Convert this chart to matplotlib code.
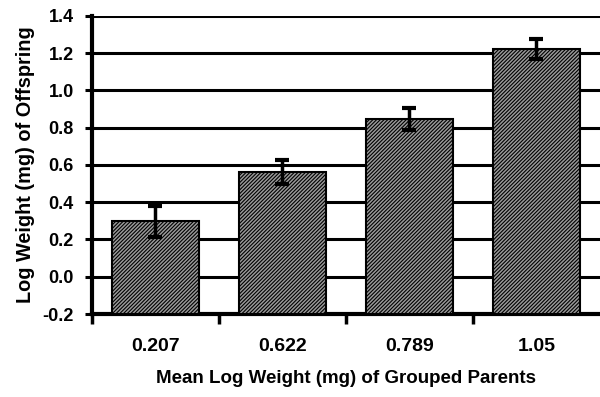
import matplotlib
matplotlib.use('Agg')
import matplotlib.pyplot as plt

plt.rcParams['font.family'] = ['Liberation Sans', 'DejaVu Sans']
plt.rcParams['font.weight'] = 'bold'
plt.rcParams['hatch.linewidth'] = 0.8
plt.rcParams['hatch.color'] = 'black'

# datos
categorias = ['0.207', '0.622', '0.789', '1.05']
medias = [0.297, 0.562, 0.846, 1.221]
errores = [0.083, 0.063, 0.058, 0.054]
yticks = [-0.2, 0.0, 0.2, 0.4, 0.6, 0.8, 1.0, 1.2, 1.4]
base = -0.2  # las barras salen del eje inferior

fig = plt.figure(figsize=(6.0, 3.97), dpi=100)
ax = fig.add_axes([0.153, 0.209, 0.847, 0.751])

pos = list(range(len(categorias)))
alturas = [m - base for m in medias]
ax.set_axisbelow(True)
ax.grid(axis='y', color='black', linewidth=2.2)
ax.bar(pos, alturas, width=0.68, bottom=base, color='#9a9a9a', edgecolor='black',
       linewidth=1.5, hatch='/' * 9, zorder=3)
ax.errorbar(pos, medias, yerr=errores, fmt='none', ecolor='black',
            elinewidth=2.5, capsize=5, capthick=3, zorder=4)

ax.set_xlim(-0.5, 3.5)
ax.set_ylim(-0.2, 1.4)
ax.set_yticks(yticks)
ax.set_yticklabels([f'{v:.1f}' for v in yticks], fontsize=13, fontweight='bold')
ax.set_xticks(pos)
ax.set_xticklabels(categorias, fontsize=14, fontweight='bold')
ax.tick_params(axis='x', which='major', length=0, pad=17)
ax.set_xticks([-0.5, 0.5, 1.5, 2.5], minor=True)
ax.tick_params(axis='x', which='minor', length=7, width=2.5, direction='out')
ax.tick_params(axis='y', length=5, width=2.2, direction='out', pad=8)

for s in ['top', 'right']:
    ax.spines[s].set_visible(False)
ax.spines['left'].set_linewidth(3)
ax.spines['bottom'].set_linewidth(3)

ax.set_xlabel('Mean Log Weight (mg) of Grouped Parents', fontsize=13.5, fontweight='bold', labelpad=11)
ax.set_ylabel('Log Weight (mg) of Offspring', fontsize=14.3, fontweight='bold', labelpad=5)

fig.savefig('out.png', dpi=100)
